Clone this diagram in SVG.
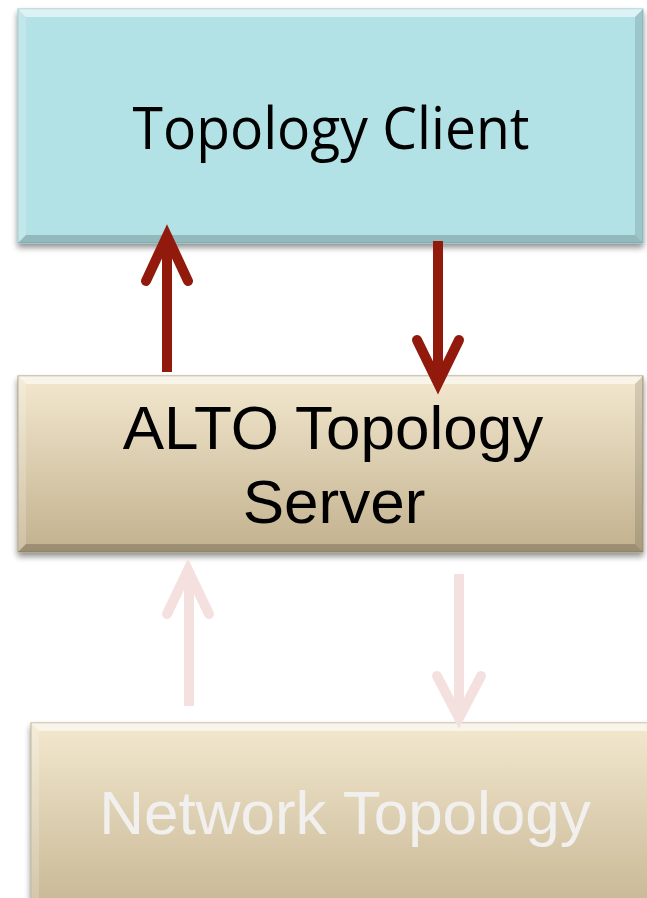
<svg xmlns="http://www.w3.org/2000/svg" width="647" height="898" viewBox="0 0 647 898">
  <defs>
    <linearGradient id="tan" x1="0" y1="0" x2="0" y2="1">
      <stop offset="0" stop-color="#f3e8cf"/>
      <stop offset="1" stop-color="#c2b18e"/>
    </linearGradient>
    <linearGradient id="tanBottom" x1="0" y1="0" x2="0" y2="1">
      <stop offset="0" stop-color="#f3e8cf"/>
      <stop offset="1" stop-color="#c6b693"/>
    </linearGradient>
    <linearGradient id="shine" x1="0" y1="0" x2="0" y2="1">
      <stop offset="0" stop-color="#ffffff" stop-opacity="0.75"/>
      <stop offset="1" stop-color="#ffffff" stop-opacity="0.1"/>
    </linearGradient>
    <filter id="shadow" x="-5%" y="-5%" width="110%" height="115%">
      <feGaussianBlur in="SourceAlpha" stdDeviation="3"/>
      <feOffset dx="0" dy="4" result="b"/>
      <feComponentTransfer><feFuncA type="linear" slope="0.45"/></feComponentTransfer>
      <feMerge><feMergeNode/><feMergeNode in="SourceGraphic"/></feMerge>
    </filter>
  </defs>
  <style>
    .arrowDark { stroke: #921a0c; stroke-width: 10; fill: none; }
    .arrowPale { stroke: #f4e1df; stroke-width: 10; fill: none; }
    .head { stroke-linecap: round; stroke-linejoin: miter; stroke-miterlimit: 10; }
    .sans { font-family: "Liberation Sans", Arial, sans-serif; font-size: 62px; text-anchor: middle; }
    .hi { fill: url(#shine); }
    .dk { fill: #000000; fill-opacity: 0.12; }
  </style>

  <g id="node-topology-client">
    <rect x="18" y="9" width="625" height="234" fill="#b3e2e6" stroke="#93c3c7" stroke-width="1" filter="url(#shadow)"/>
    <polygon points="18,9 643,9 635,17 26,17" fill="#ffffff" fill-opacity="0.55"/>
    <polygon points="18,9 26,17 26,235 18,243" fill="#ffffff" fill-opacity="0.2"/>
    <polygon points="643,9 643,243 635,235 635,17" class="dk"/>
    <polygon points="18,243 643,243 635,235 26,235" fill="#000" fill-opacity="0.18"/>
    <text x="331" y="149" font-family="'Open Sans', 'Noto Sans', sans-serif" font-size="58" fill="#000" text-anchor="middle" textLength="397" lengthAdjust="spacingAndGlyphs">Topology Client</text>
  </g>

  <g id="node-alto-server">
    <rect x="18" y="376" width="625" height="176" fill="url(#tan)" stroke="#a89a7a" stroke-width="1" filter="url(#shadow)"/>
    <polygon points="18,376 643,376 635,384 26,384" fill="#ffffff" fill-opacity="0.55"/>
    <polygon points="18,376 26,384 26,544 18,552" fill="#ffffff" fill-opacity="0.2"/>
    <polygon points="643,376 643,552 635,544 635,384" class="dk"/>
    <polygon points="18,552 643,552 635,544 26,544" fill="#000" fill-opacity="0.2"/>
    <text class="sans" x="333" y="449" fill="#000">ALTO Topology</text>
    <text class="sans" x="334" y="523" fill="#000">Server</text>
  </g>

  <g id="node-network-topology">
    <rect x="31" y="723" width="630" height="190" fill="url(#tanBottom)" stroke="#b5a889" stroke-width="1" filter="url(#shadow)"/>
    <polygon points="31,723 661,723 653,731 39,731" fill="#ffffff" fill-opacity="0.55"/>
    <polygon points="31,723 39,731 39,913 31,913" fill="#ffffff" fill-opacity="0.2"/>
    <text class="sans" x="345" y="834" fill="#f2f0ee">Network Topology</text>
  </g>

  <g id="connectors">
    <line class="arrowDark" x1="167" y1="372" x2="167" y2="240"/>
    <path class="arrowDark head" d="M146,281 L167,236 L188,281"/>
    <line class="arrowDark" x1="438" y1="241" x2="438" y2="378"/>
    <path class="arrowDark head" d="M417,340 L438,383 L459,340"/>

    <line class="arrowPale" x1="189" y1="706" x2="189" y2="574"/>
    <path class="arrowPale head" d="M167,614 L188,570 L209,614"/>
    <line class="arrowPale" x1="459" y1="574" x2="459" y2="712"/>
    <path class="arrowPale head" d="M437,676 L459,718 L481,676"/>
  </g>
</svg>
